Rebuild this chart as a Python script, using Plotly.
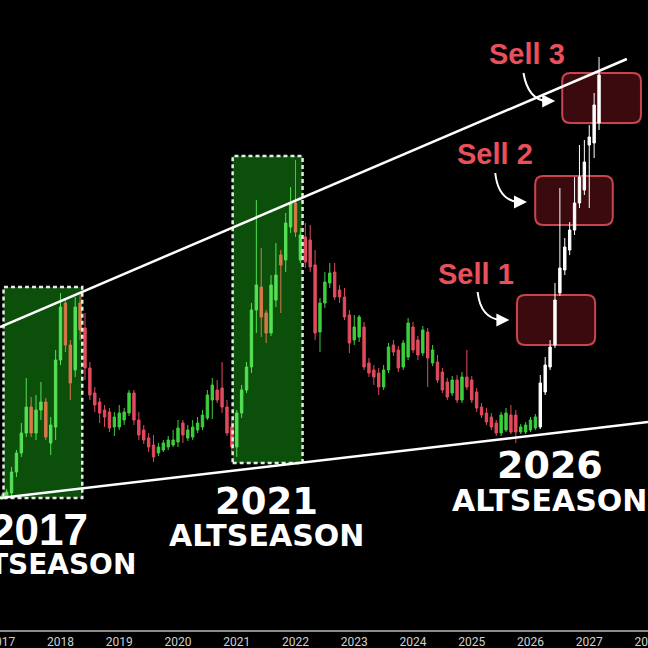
import plotly.graph_objects as go

# monthly candles, Jan 2017 onwards (index units, hidden y axis)
open_ = [131, 133, 137, 158, 177, 197, 223, 197, 220, 228,
         187, 203, 270, 327, 285, 260, 327, 302, 262, 237,
         228, 220, 218, 203, 203, 210, 217, 237, 210, 200,
         192, 185, 177, 180, 183, 185, 188, 207, 192, 193,
         200, 203, 212, 230, 240, 242, 223, 203, 183, 217,
         240, 263, 320, 343, 317, 297, 330, 375, 370, 403,
         427, 370, 393, 390, 365, 298, 327, 347, 358, 340,
         333, 315, 290, 293, 303, 267, 260, 257, 243, 260,
         285, 280, 263, 273, 303, 290, 277, 298, 267, 268,
         258, 248, 237, 250, 230, 253, 250, 238, 223, 217,
         213, 207, 197, 200, 215, 215, 198, 198, 200, 202,
         203, 238, 263, 285, 337, 360, 380, 400, 427, 440, 485, 487, 507]
high = [136, 141, 163, 180, 207, 252, 233, 235, 248, 232,
        213, 280, 337, 330, 290, 333, 338, 317, 268, 243,
        232, 225, 222, 218, 225, 222, 240, 240, 218, 205,
        197, 195, 187, 190, 194, 200, 210, 210, 205, 210,
        213, 220, 240, 252, 250, 268, 230, 210, 220, 245,
        268, 327, 430, 382, 320, 355, 387, 380, 417, 443,
        470, 402, 407, 405, 380, 332, 358, 367, 367, 345,
        342, 320, 315, 315, 308, 272, 265, 262, 265, 287,
        290, 284, 290, 312, 308, 294, 304, 302, 285, 275,
        262, 252, 254, 255, 258, 280, 254, 242, 227, 222,
        217, 210, 218, 222, 225, 220, 206, 208, 213, 216,
        255, 273, 290, 347, 442, 392, 408, 453, 485, 490, 505, 537, 573]
low = [130, 131, 134, 153, 173, 193, 193, 190, 210, 190,
       175, 190, 265, 278, 230, 253, 290, 250, 230, 218,
       207, 203, 198, 194, 200, 205, 214, 205, 190, 186,
       178, 168, 174, 178, 180, 183, 183, 187, 189, 190,
       197, 200, 210, 211, 227, 217, 194, 178, 173, 212,
       237, 257, 297, 293, 287, 294, 323, 317, 358, 397,
       393, 367, 362, 358, 290, 278, 322, 342, 330, 327,
       310, 277, 285, 288, 260, 253, 245, 235, 240, 257,
       274, 258, 260, 270, 277, 270, 274, 243, 264, 247,
       237, 230, 234, 227, 227, 240, 227, 218, 212, 205,
       200, 194, 194, 198, 196, 187, 196, 196, 198, 200,
       201, 235, 260, 282, 334, 355, 375, 395, 422, 435, 422, 472, 500]
close = [134, 138, 158, 177, 197, 223, 197, 220, 228, 193,
         205, 270, 323, 285, 247, 323, 300, 262, 235, 225,
         217, 213, 202, 213, 217, 218, 237, 210, 195, 190,
         183, 173, 183, 187, 190, 190, 202, 195, 200, 203,
         207, 215, 235, 245, 230, 223, 197, 183, 217, 240,
         263, 320, 345, 313, 297, 345, 355, 365, 407, 427,
         398, 395, 368, 363, 297, 327, 348, 357, 333, 333,
         313, 287, 303, 313, 263, 257, 253, 243, 260, 283,
         278, 262, 287, 307, 280, 275, 300, 272, 280, 250,
         240, 233, 250, 230, 253, 243, 230, 222, 215, 208,
         203, 197, 215, 217, 198, 198, 203, 205, 210, 213,
         247, 265, 283, 330, 362, 383, 400, 427, 453, 468, 493, 525, 555]

breakout = 110  # first candle of the 2026 run (Mar 2026), drawn white
months = [2017 + i / 12 for i in range(len(open_))]

year_ticks = list(range(2017, 2029))

# annotation boxes and lines (year, level)
season_boxes = [(2017.03, 2018.37, 132, 343), (2020.93, 2022.12, 167, 474)]
sell_boxes = [("Sell 1", 2025.77, 2027.10, 285, 335),
              ("Sell 2", 2026.08, 2027.40, 405, 454),
              ("Sell 3", 2026.54, 2027.88, 507, 557)]
sell_labels = [(2025.08, 356), (2025.40, 476), (2025.94, 576)]
sell_arrows = [((2025.10, 338), (2025.15, 312), (2025.49, 310), 2025.64),
               ((2025.40, 457), (2025.45, 430), (2025.79, 428), 2025.94),
               ((2025.88, 557), (2025.96, 530), (2026.28, 529), 2026.42)]
upper_line = [(2016.97, 303), (2027.64, 571)]
lower_line = [(2016.97, 132), (2028.0, 208)]
# label, sub, x label, x sub, y label, y sub, label size, sub size, label font
season_text = [("2017", "ALTSEASON", 2018.50, 2017.73, 101, 66, 44, 28, 'Liberation Sans'),
               ("2021", "ALTSEASON", 2021.51, 2021.51, 129, 95, 37, 30, 'DejaVu Sans'),
               ("2026", "ALTSEASON", 2026.33, 2026.33, 165, 130, 38, 30, 'DejaVu Sans')]


def in_season(x):
    return any(b[0] <= x <= b[1] for b in season_boxes)


def candle_trace(idx, up, down):
    return go.Candlestick(
        x=[months[i] for i in idx], open=[open_[i] for i in idx],
        high=[high[i] for i in idx], low=[low[i] for i in idx],
        close=[close[i] for i in idx],
        increasing=dict(line=dict(color=up, width=1), fillcolor=up),
        decreasing=dict(line=dict(color=down, width=1), fillcolor=down),
        hoverinfo='skip', showlegend=False)


base = [i for i in range(breakout) if not in_season(months[i])]
season = [i for i in range(breakout) if in_season(months[i])]
rally = list(range(breakout, len(open_)))

fig = go.Figure()

# altseason boxes, green fill behind the candles
for x0, x1, y0, y1 in season_boxes:
    fig.add_shape(type='rect', x0=x0, x1=x1, y0=y0, y1=y1, xref='x', yref='y',
                  layer='below', fillcolor='#0b4f0b', line=dict(width=0))

# sell zones (rounded rectangles)
rx, ry = 0.14, 8
for name, x0, x1, y0, y1 in sell_boxes:
    path = (f"M {x0+rx},{y0} L {x1-rx},{y0} Q {x1},{y0} {x1},{y0+ry} "
            f"L {x1},{y1-ry} Q {x1},{y1} {x1-rx},{y1} L {x0+rx},{y1} "
            f"Q {x0},{y1} {x0},{y1-ry} L {x0},{y0+ry} Q {x0},{y0} {x0+rx},{y0} Z")
    fig.add_shape(type='path', path=path, xref='x', yref='y', layer='below',
                  fillcolor='#3a0a0e', line=dict(color='#c8444e', width=2))

fig.add_trace(candle_trace(base, '#3ccf3c', '#e24a5e'))
fig.add_trace(candle_trace(season, '#55e055', '#d9784c'))
fig.add_trace(candle_trace(rally, 'white', 'white'))

# dashed borders of the altseason boxes
for x0, x1, y0, y1 in season_boxes:
    fig.add_shape(type='rect', x0=x0, x1=x1, y0=y0, y1=y1, xref='x', yref='y',
                  layer='above', fillcolor='rgba(0,0,0,0)',
                  line=dict(color='#e8e8e8', width=2.5, dash='4px,3px'))

for (xa, ya), (xb, yb) in [upper_line, lower_line]:
    fig.add_shape(type='line', x0=xa, y0=ya, x1=xb, y1=yb, xref='x', yref='y',
                  layer='above', line=dict(color='white', width=2.5))

for (p0, pc, p1, tip) in sell_arrows:
    fig.add_shape(type='path', xref='x', yref='y', layer='above',
                  path=f"M {p0[0]},{p0[1]} Q {pc[0]},{pc[1]} {p1[0]},{p1[1]}",
                  line=dict(color='white', width=2))
    fig.add_annotation(x=tip, y=p1[1], ax=p1[0], ay=p1[1], axref='x', ayref='y',
                       text='', showarrow=True, arrowhead=2, arrowsize=1.3,
                       arrowwidth=2, arrowcolor='white', standoff=0)

for (name, *_), (lx, ly) in zip(sell_boxes, sell_labels):
    fig.add_annotation(x=lx, y=ly, text=f"<b>{name}</b>", showarrow=False,
                       font=dict(family='Liberation Sans', size=29, color='#e8505c'))

for yr, sub, x_yr, x_sub, y_yr, y_sub, size, sub_size, fam in season_text:
    fig.add_annotation(x=x_yr, y=y_yr, text=f"<b>{yr}</b>", showarrow=False,
                       xanchor='right' if yr == "2017" else 'center',
                       font=dict(family=fam, size=size, color='white'))
    fig.add_annotation(x=x_sub, y=y_sub, text=f"<b>{sub}</b>", showarrow=False,
                       font=dict(family='DejaVu Sans', size=sub_size, color='white'))

fig.update_layout(
    width=648, height=648,
    margin=dict(l=0, r=0, t=0, b=18, autoexpand=False),
    paper_bgcolor='black', plot_bgcolor='black',
    xaxis=dict(range=[2016.97, 2028.0], tickvals=year_ticks,
               ticktext=[str(y) for y in year_ticks],
               showgrid=False, zeroline=False, showline=True,
               linecolor='#8a8a8a', linewidth=2, ticks='',
               automargin=False, ticklabeloverflow='allow',
               tickfont=dict(family='Roboto', size=12, color='#d0d0d0'),
               rangeslider=dict(visible=False)),
    yaxis=dict(range=[0, 630], visible=False, showgrid=False),
)

# page itself black with no margin, so the chart fills the window
fig.write_html("out.html", config={'displayModeBar': False}, post_script=(
    "document.body.style.margin='0';"
    "document.body.style.background='black';"
    "document.body.style.overflow='hidden';"))
